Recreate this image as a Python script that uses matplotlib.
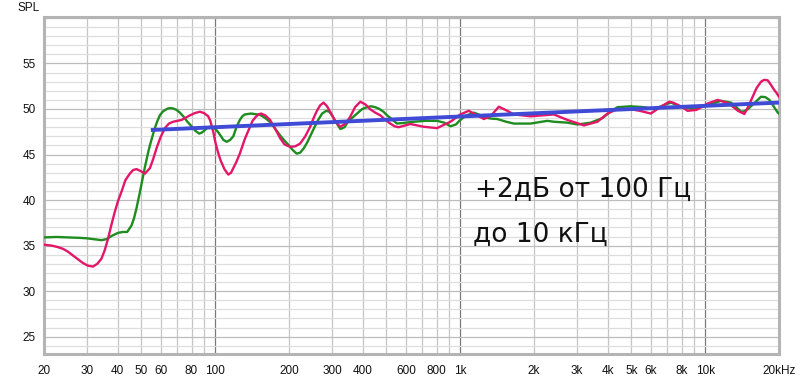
import matplotlib
matplotlib.use("Agg")
import matplotlib.pyplot as plt
from matplotlib.ticker import FixedLocator, NullFormatter

# frequency response readings (Hz, dB SPL)
green_freq = [20, 22.5, 25.4, 28, 30, 32, 34.3, 35.9, 38, 40.1, 42, 43.7, 45.5, 46.6, 47.7,
              48.5, 49.2, 50.8, 51.6, 52.5, 53.3, 54.1, 55.3, 56.5, 57.9, 59.4, 61, 62.5, 64,
              65.7, 67.5, 69.5, 71.7, 74, 77, 80, 83, 86, 88, 90, 92.5, 95.1, 97.5, 100, 102.5,
              105, 108, 111.4, 115, 118.5, 122, 126, 129, 132, 140, 149, 154, 160, 167, 175,
              184, 192, 200, 207, 215, 222, 230, 237, 244, 253, 263, 273, 283.7, 292, 300, 310,
              324, 337, 350, 365, 379, 398, 416, 432, 450, 468, 486, 503, 520, 535, 552, 600,
              645, 720, 804, 860, 912, 960, 1000, 1060, 1136, 1190, 1248, 1330, 1416, 1540,
              1655, 1937, 2267, 2411, 2737, 3007, 3408, 3806, 4100, 4383, 4967, 5630, 6183,
              6600, 7240, 7958, 9017, 10230, 11596, 12740, 13400, 14000, 14450, 14910, 15800,
              16900, 17600, 18280, 19000, 19770, 20000]
green_db = [35.9, 35.95, 35.9, 35.85, 35.8, 35.7, 35.6, 35.7, 36.1, 36.4, 36.5, 36.5, 37.2, 38.0, 39.1,
            40.0, 40.8, 42.7, 43.6, 44.5, 45.3, 46.0, 46.9, 47.8, 48.6, 49.3, 49.7, 49.9, 50.05,
            50.1, 50.05, 49.9, 49.6, 49.2, 48.6, 48.1, 47.6, 47.3, 47.4, 47.6, 47.9, 48.05, 48.0, 47.8, 47.5,
            47.1, 46.6, 46.4, 46.6, 47.0, 48.0, 48.8, 49.2, 49.4, 49.5, 49.4, 49.3, 49.0, 48.6, 47.9,
            47.1, 46.5, 46.0, 45.5, 45.1, 45.2, 45.7, 46.3, 47.0, 47.9, 48.8, 49.5, 49.8, 49.7, 49.3, 48.6,
            47.8, 48.0, 48.7, 49.1, 49.5, 50.0, 50.2, 50.3, 50.2, 50.0, 49.7, 49.3, 49.0, 48.7, 48.4, 48.5,
            48.6, 48.7, 48.7, 48.5, 48.1, 48.3, 48.8, 49.3, 49.6, 49.4, 49.1, 48.95, 48.9, 48.6,
            48.4, 48.4, 48.7, 48.6, 48.5, 48.3, 48.5, 49.0, 49.7, 50.2, 50.3, 50.2, 49.97,
            50.3, 50.7, 50.25, 49.97, 50.4, 50.9, 50.7, 50.2, 49.7, 49.75, 49.97, 50.6,
            51.35, 51.3, 51.0, 50.3, 49.6, 49.5]

pink_freq = [20, 21.5, 22.7, 23.9, 25, 26.3, 27.5, 28.8, 30.2, 31.7, 33, 34.3, 35.4, 36.5, 37.7,
             38.9, 40.1, 41.4, 43, 44.8, 46.2, 47.7, 49.5, 51.6, 54.1, 55.8, 57.6, 59.8, 62.3,
             64.7, 67.3, 72.9, 78.8, 82.5, 86.6, 90, 93.6, 95.5, 97, 98.5, 100, 102.5, 105, 109,
             113, 116, 119, 122, 126, 132, 138.7, 142, 146, 150, 154, 160, 167.4, 175, 184, 192,
             202, 212, 222, 233, 244, 252, 260, 268, 276.6, 286, 297, 310, 324, 340, 355.6, 372,
             390.8, 410, 429, 450, 472, 495, 518, 540, 560, 626, 709, 804, 912, 1000, 1083, 1172,
             1248, 1329, 1437, 1556, 1655, 1937, 2267, 2411, 2737, 3200, 3630, 3990, 4383, 4967,
             5400, 5998, 6590, 7124, 7400, 8000, 8473, 9200, 10230, 11240, 12500, 13600, 14440,
             15000, 15620, 16200, 16900, 17400, 17990, 18600, 19000, 19500, 20000]
pink_db = [35.1, 35.0, 34.85, 34.65, 34.35, 33.9, 33.5, 33.1, 32.8, 32.7, 33.0, 33.55, 34.5, 35.75, 37.3,
           38.7, 39.9, 40.9, 42.2, 42.9, 43.3, 43.4, 43.2, 42.9, 43.5, 44.5, 45.7, 46.9, 47.9,
           48.4, 48.6, 48.8, 49.3, 49.55, 49.7, 49.55, 49.2, 48.7, 48.0, 47.3, 46.4, 45.3, 44.4, 43.4,
           42.8, 43.0, 43.6, 44.2, 45.1, 46.7, 48.05, 48.7, 49.1, 49.4, 49.5, 49.3, 48.8, 47.9, 46.8, 46.1,
           45.85, 45.9, 46.2, 47.0, 48.05, 49.0, 49.8, 50.4, 50.7, 50.3, 49.5, 48.6, 48.05, 48.4, 49.15, 50.2,
           50.8, 50.5, 49.97, 49.6, 49.3, 48.8, 48.4, 48.1, 48.0, 48.35, 48.05, 47.9, 48.6, 49.4, 49.8, 49.3,
           48.9, 49.2, 50.25, 49.8, 49.4, 49.2, 49.35, 49.4, 48.8, 48.2, 48.6, 49.5, 50.0, 49.97,
           49.8, 49.5, 50.25, 50.8, 50.7, 50.25, 49.8, 49.9, 50.6, 51.0, 50.6, 49.8, 49.45,
           50.3, 51.35, 52.3, 53.0, 53.2, 53.15, 52.6, 52.2, 51.8, 51.35]

trend_freq = [55.6, 19900]
trend_db = [47.7, 50.7]

x_ticks = [20, 30, 40, 50, 60, 80, 100, 200, 300, 400, 600, 800, 1000, 2000, 3000, 4000,
           5000, 6000, 8000, 10000, 20000]
x_labels = ["20", "30", "40", "50", "60", "80", "100", "200", "300", "400", "600", "800",
            "1k", "2k", "3k", "4k", "5k", "6k", "8k", "10k", "20kHz"]
y_ticks = [25, 30, 35, 40, 45, 50, 55]

plt.rcParams['font.family'] = ['Liberation Sans', 'DejaVu Sans']

fig = plt.figure(figsize=(8, 3.78), dpi=100)
ax = fig.add_axes([0.055, 0.0635, 0.91875, 0.8915])

ax.set_xscale('log')
ax.set_xlim(20, 20000)
ax.set_ylim(23.1, 60.1)

# grid: every integer multiple of a decade, darker on decades
minor_x = [m * d for d in (10, 100, 1000, 10000) for m in range(1, 10) if 20 <= m * d <= 20000]
for xv in minor_x:
    decade = xv in (100, 1000, 10000)
    ax.axvline(xv, color='#7a7a7a' if decade else '#c4c4c4', lw=0.9, zorder=0)
for yv in range(24, 61):
    ax.axhline(yv, color='#bdbdbd' if yv % 5 == 0 else '#dedede', lw=0.9, zorder=0)

ax.plot(green_freq, green_db, color='#1e8c1e', lw=1.7, solid_joinstyle='round', zorder=3)
ax.plot(pink_freq, pink_db, color='#e3166a', lw=1.7, solid_joinstyle='round', zorder=4)
ax.plot(trend_freq, trend_db, color='#3f4ad6', lw=2.8, zorder=5)

ax.xaxis.set_major_locator(FixedLocator(x_ticks))
ax.set_xticklabels(x_labels)
ax.xaxis.set_minor_formatter(NullFormatter())
ax.xaxis.set_minor_locator(FixedLocator([]))
ax.set_yticks(y_ticks)
ax.tick_params(axis='both', length=0, labelsize=8.5, colors='#111111')
ax.tick_params(axis='x', pad=8)
ax.tick_params(axis='y', pad=6)

for s in ax.spines.values():
    s.set_color('#b4b4b4')
    s.set_linewidth(2.2)

fig.text(17 / 800, 1 - 8 / 378, "SPL", fontsize=8.5, ha='left', va='center', color='#111111')

ax.text(0.586, 0.466, "+2дБ от 100 Гц", transform=ax.transAxes, fontsize=19,
        family='DejaVu Sans', ha='left', va='baseline', color='#111111')
ax.text(0.583, 0.333, "до 10 кГц", transform=ax.transAxes, fontsize=19,
        family='DejaVu Sans', ha='left', va='baseline', color='#111111')

fig.savefig('out.png', dpi=100)
